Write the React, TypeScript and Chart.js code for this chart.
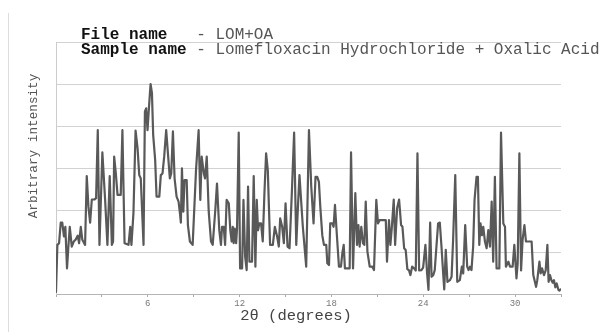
import React, { useEffect, useRef } from "react";
import { Chart, registerables } from "chart.js";

Chart.register(...registerables);

const fileLabel = "File name";
const fileValue = "- LOM+OA";
const sampleLabel = "Sample name";
const sampleValue = "- Lomefloxacin Hydrochloride + Oxalic Acid";
const yTitle = "Arbitrary intensity";
const xTitle = "2\u03b8 (degrees)";
const xTickLabels = [6, 12, 18, 24, 30];

const twoTheta = [
  0.0, 0.09, 0.2, 0.31, 0.41, 0.52, 0.61, 0.72, 0.81, 0.9, 1.03, 1.16, 1.29, 1.42, 1.51, 1.62, 1.72, 1.9,
  2.01, 2.12, 2.23, 2.34, 2.51, 2.62, 2.73, 2.84, 3.03, 3.21, 3.36, 3.51, 3.65, 3.73, 3.8, 3.91, 4.02, 4.23,
  4.34, 4.48, 4.74, 4.85, 4.93, 5.06, 5.2, 5.33, 5.44, 5.54, 5.72, 5.81, 5.89, 5.98, 6.07, 6.18, 6.27, 6.35,
  6.48, 6.57, 6.75, 6.85, 6.96, 7.07, 7.2, 7.33, 7.44, 7.53, 7.64, 7.75, 7.88, 8.01, 8.1, 8.16, 8.23, 8.32,
  8.4, 8.54, 8.62, 8.75, 8.93, 9.15, 9.32, 9.43, 9.52, 9.66, 9.74, 9.85, 9.98, 10.13, 10.24, 10.41, 10.52,
  10.67, 10.78, 10.85, 10.96, 11.05, 11.15, 11.29, 11.39, 11.48, 11.55, 11.61, 11.68, 11.77, 11.83, 11.94,
  12.03, 12.16, 12.25, 12.36, 12.46, 12.55, 12.64, 12.81, 12.92, 13.03, 13.12, 13.2, 13.29, 13.4, 13.51,
  13.62, 13.73, 13.84, 13.99, 14.17, 14.3, 14.45, 14.56, 14.65, 14.78, 14.89, 15.0, 15.13, 15.26, 15.41,
  15.56, 15.7, 15.81, 15.91, 16.13, 16.35, 16.53, 16.68, 16.83, 16.96, 17.07, 17.18, 17.27, 17.4, 17.51,
  17.66, 17.73, 17.84, 17.92, 18.06, 18.14, 18.23, 18.36, 18.49, 18.62, 18.71, 18.8, 18.88, 19.08, 19.19,
  19.28, 19.41, 19.56, 19.67, 19.76, 19.84, 19.95, 20.06, 20.15, 20.24, 20.35, 20.5, 20.67, 20.78, 20.93,
  21.04, 21.15, 21.55, 21.63, 21.76, 21.85, 21.94, 22.07, 22.16, 22.29, 22.42, 22.55, 22.64, 22.75, 22.85,
  22.96, 23.07, 23.16, 23.27, 23.4, 23.51, 23.62, 23.73, 23.88, 23.99, 24.14, 24.25, 24.34, 24.45, 24.54,
  24.65, 24.75, 24.86, 24.97, 25.08, 25.19, 25.3, 25.37, 25.47, 25.58, 25.74, 25.85, 25.95, 26.09, 26.22,
  26.39, 26.52, 26.61, 26.74, 26.87, 26.96, 27.05, 27.15, 27.26, 27.35, 27.48, 27.57, 27.66, 27.74, 27.83,
  27.92, 28.03, 28.14, 28.25, 28.36, 28.47, 28.57, 28.68, 28.79, 28.97, 29.08, 29.23, 29.34, 29.4, 29.56,
  29.67, 29.84, 29.95, 30.09, 30.17, 30.28, 30.39, 30.49, 30.61, 30.71, 30.87, 31.08, 31.19, 31.37, 31.45,
  31.59, 31.67, 31.76, 31.89, 32.0, 32.11, 32.19, 32.28, 32.37, 32.46, 32.54, 32.63, 32.72, 32.83, 32.9,
  32.97,
];

const intensity = [
  0.05, 1.17, 1.21, 1.7, 1.7, 1.37, 1.6, 0.61, 1.13, 1.6, 1.13, 1.25, 1.3, 1.39, 1.21, 1.6, 1.29, 1.17,
  2.81, 2.08, 1.7, 2.25, 2.25, 2.28, 3.9, 1.17, 3.37, 2.24, 1.17, 2.81, 1.17, 1.25, 3.27, 2.87, 2.36, 2.36,
  3.9, 1.21, 1.17, 1.6, 1.17, 1.92, 3.89, 3.47, 2.83, 2.75, 1.17, 4.34, 4.42, 3.9, 4.42, 5.0, 4.78, 3.79,
  3.19, 2.32, 2.32, 2.83, 2.87, 3.27, 3.9, 3.27, 2.75, 2.87, 3.87, 2.75, 2.32, 2.2, 1.92, 1.7, 2.99, 1.96,
  2.71, 2.71, 1.64, 1.25, 1.17, 2.95, 3.9, 2.24, 3.27, 2.87, 2.75, 3.27, 1.96, 1.25, 1.17, 2.0, 2.63,
  1.52, 1.17, 1.6, 1.6, 1.17, 2.24, 2.16, 1.52, 1.25, 1.6, 1.21, 1.56, 1.21, 1.56, 3.84,
  0.61, 0.61, 2.24, 0.89, 0.57, 2.56, 0.77, 0.77, 2.81, 0.65, 2.24, 1.52, 1.68, 1.68, 1.25,
  2.4, 3.35, 2.95, 1.17, 1.17, 1.6, 1.37, 1.13, 1.8, 1.6, 1.21, 2.16, 1.13, 1.09, 2.4,
  3.84, 1.17, 2.08, 2.83, 1.6, 0.65, 3.9, 2.56, 1.68, 2.79, 2.79, 2.67, 2.08, 1.4, 1.17,
  1.17, 0.73, 0.69, 1.68, 1.68, 1.6, 2.12, 1.37, 0.65, 0.65, 0.97, 1.17, 0.61, 0.61, 0.61,
  3.37, 0.61, 2.4, 1.17, 1.64, 1.13, 1.6, 1.21, 1.17, 2.2, 1.01, 0.65, 0.65, 0.57, 2.24,
  1.68, 1.76, 1.76, 0.77, 1.76, 1.17, 1.56, 2.25, 1.17, 2.04, 2.25, 1.64, 1.6, 1.09, 1.05,
  0.59, 0.56, 0.45, 0.65, 0.61, 0.56, 3.35, 0.56, 0.57, 0.63, 1.17, 0.49, 0.1, 1.7, 0.41,
  0.45, 0.57, 1.13, 1.68, 1.7, 1.13, 0.49, 0.11, 1.05, 0.29, 0.33, 0.41, 1.29, 2.83, 0.29,
  0.33, 0.65, 0.49, 1.64, 0.65, 0.57, 0.65, 0.57, 1.13, 2.24, 2.79, 2.79, 1.17, 1.68, 1.4,
  1.6, 1.25, 1.09, 1.52, 1.13, 2.2, 0.77, 2.79, 0.61, 0.61, 3.84, 1.68, 1.6, 0.65, 0.77,
  0.65, 0.65, 1.17, 0.37, 0.73, 3.35, 0.56, 1.29, 1.64, 1.25, 1.25, 1.25, 0.45, 0.17, 0.33,
  0.77, 0.49, 0.61, 0.45, 0.56, 1.17, 0.29, 0.45, 0.33, 0.27, 0.33, 0.16, 0.25, 0.1, 0.08,
  0.11,
];

const MONO = '"Liberation Mono", "DejaVu Sans Mono", monospace';

const textPlugin = {
  id: "xrdText",
  beforeDraw(chart: any) {
    const ctx = chart.ctx;
    ctx.save();
    ctx.strokeStyle = "#dddddd";
    ctx.lineWidth = 1;
    ctx.beginPath();
    ctx.moveTo(8.5, 13);
    ctx.lineTo(8.5, 332);
    ctx.stroke();
    ctx.restore();
  },
  afterDraw(chart: any) {
    const ctx = chart.ctx;
    ctx.save();
    ctx.textBaseline = "middle";
    ctx.textAlign = "left";
    ctx.font = "bold 16px " + MONO;
    ctx.fillStyle = "#111111";
    ctx.fillText(fileLabel, 81, 35);
    ctx.fillText(sampleLabel, 81, 50);
    const cw = ctx.measureText("M").width;
    ctx.font = "16px " + MONO;
    ctx.fillStyle = "#555555";
    ctx.fillText(fileValue, 81 + 12 * cw, 35);
    ctx.fillText(sampleValue, 81 + 12 * cw, 50);

    ctx.font = "15.5px " + MONO;
    ctx.fillStyle = "#444444";
    ctx.textAlign = "center";
    ctx.fillText(xTitle, 296, 316);

    ctx.translate(34, 146);
    ctx.rotate(-Math.PI / 2);
    ctx.font = "12.7px " + MONO;
    ctx.fillStyle = "#555555";
    ctx.fillText(yTitle, 0, 0);
    ctx.restore();
  },
};

export default function App() {
  const ref = useRef<HTMLCanvasElement | null>(null);
  useEffect(() => {
    if (!ref.current) return;
    const points = twoTheta.map((x, i) => ({ x, y: intensity[i] }));
    const chart = new Chart(ref.current, {
      type: "line",
      data: {
        datasets: [
          {
            data: points,
            borderColor: "#595959",
            borderWidth: 2.2,
            borderJoinStyle: "round",
            borderCapStyle: "round",
            pointRadius: 0,
            tension: 0,
            fill: false,
          },
        ],
      },
      options: {
        animation: false,
        responsive: false,
        maintainAspectRatio: false,
        layout: { padding: { left: 56, top: 42, right: 42, bottom: 0 } },
        plugins: { legend: { display: false }, tooltip: { enabled: false }, title: { display: false } },
        scales: {
          x: {
            type: "linear",
            min: 0,
            max: 33,
            afterFit: (s: any) => {
              s.height = 38;
            },
            ticks: {
              stepSize: 3,
              autoSkip: false,
              maxRotation: 0,
              padding: 1,
              color: "#777777",
              font: { family: MONO, size: 9 },
              callback: (v: any) => (xTickLabels.includes(Number(v)) ? String(v) : ""),
            },
            grid: { drawOnChartArea: false, drawTicks: true, tickLength: 3, color: "#aaaaaa" },
            border: { display: true, color: "#b5b5b5", width: 1 },
          },
          y: {
            min: 0,
            max: 6,
            afterFit: (s: any) => {
              s.width = 0;
            },
            ticks: { stepSize: 1, display: false },
            grid: { color: "#d2d2d2", drawTicks: false, lineWidth: 1 },
            border: { display: true, color: "#cccccc", width: 1 },
          },
        },
      },
      plugins: [textPlugin],
    });
    return () => chart.destroy();
  }, []);
  return (
    <div style={{ position: "absolute", left: 0, top: 0, width: 603, height: 332, background: "#ffffff" }}>
      <canvas ref={ref} width={603} height={332} style={{ width: 603, height: 332, display: "block" }} />
    </div>
  );
}
